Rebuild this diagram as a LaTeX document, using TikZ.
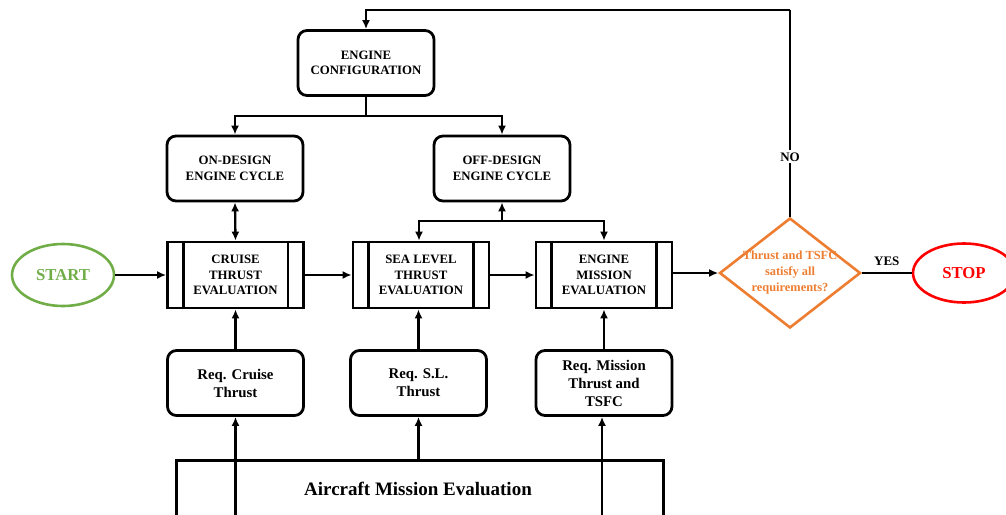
\documentclass[tikz,border=0pt]{standalone}
\usepackage{fontspec}
\setmainfont{Liberation Serif}
\usetikzlibrary{arrows.meta,shapes.geometric,calc}
\definecolor{sgreen}{HTML}{70AD47}
\definecolor{sorange}{HTML}{ED7D31}
\begin{document}
\begin{tikzpicture}[x=1pt,y=-1pt,
  rbox/.style={draw,line width=2.8pt,rounded corners=9pt,minimum width=136pt,minimum height=65pt,align=center,font=\bfseries\fontsize{12.8}{15.5}\selectfont},
  reqbox/.style={rbox,font=\bfseries\fontsize{14.8}{18}\selectfont},
  pbox/.style={draw,line width=2.8pt,minimum width=136pt,minimum height=66pt,align=center,font=\bfseries\fontsize{12.8}{15.5}\selectfont},
  conn/.style={line width=2.3pt,-{Latex[length=9pt,width=8pt]}},
  line/.style={line width=2.3pt},
  lbl/.style={font=\bfseries\fontsize{13}{15}\selectfont,fill=white,inner sep=2pt}]
\useasboundingbox (0,0) rectangle (1006,514);
\clip (0,0) rectangle (1006,514);
\node[rbox] (ec) at (366,63) {ENGINE\\CONFIGURATION};
\node[rbox] (on) at (235,168.5) {ON-DESIGN\\ENGINE CYCLE};
\node[rbox] (off) at (502,168.5) {OFF-DESIGN\\ENGINE CYCLE};
\node[pbox] (cr) at (235.5,275) {CRUISE\\THRUST\\EVALUATION};
\node[pbox] (sl) at (421,275) {SEA LEVEL\\THRUST\\EVALUATION};
\node[pbox] (em) at (604,275) {ENGINE\\MISSION\\EVALUATION};
\foreach \n in {cr,sl,em}{
  \draw[line width=2.8pt] ([xshift=17pt]\n.north west) -- ([xshift=17pt]\n.south west);
  \draw[line width=2.8pt] ([xshift=-17pt]\n.north east) -- ([xshift=-17pt]\n.south east);
}
\node[draw=sgreen,line width=2.6pt,ellipse,minimum width=102pt,minimum height=62pt,text=sgreen,font=\bfseries\fontsize{16.7}{19}\selectfont] (start) at (63,275) {START};
\node[draw=red,line width=2.6pt,ellipse,minimum width=102pt,minimum height=59pt,text=red,font=\bfseries\fontsize{16.7}{19}\selectfont] (stop) at (964,273) {STOP};
\node[draw=sorange,line width=2.6pt,diamond,minimum width=141pt,minimum height=110pt,inner sep=0pt] (dec) at (790,273) {};
\node[align=center,text=sorange,font=\bfseries\fontsize{12.4}{16}\selectfont,inner sep=0pt] (dectxt) at (790,273) {Thrust and TSFC\\satisfy all\\requirements?};
\node[reqbox] (rc) at (235.5,383) {Req. Cruise\\Thrust};
\node[reqbox] (rs) at (418.5,383) {Req. S.L.\\Thrust};
\node[reqbox] (rm) at (604,383) {Req. Mission\\Thrust and\\TSFC};
\node[draw,line width=2.8pt,minimum width=487pt,minimum height=120pt,anchor=north west,inner sep=0pt] (ame) at (175,459) {};
\node[font=\bfseries\fontsize{19}{22}\selectfont] (amet) at (418,489) {Aircraft Mission Evaluation};
% top tree
\coordinate (j1) at (366,116);
\draw[line] (ec.south) -- (j1);
\draw[conn] (j1) -| (on.north);
\draw[conn] (j1) -| (off.north);
\draw[line width=2.3pt,{Latex[length=9pt,width=8pt]}-{Latex[length=9pt,width=8pt]}] (on.south) -- (cr.north);
\coordinate (j2) at (502,221);
\draw[conn] (j2) -- (off.south);
\draw[conn] (j2) -| ([xshift=-2pt]sl.north);
\draw[conn] (j2) -| (em.north);
% main flow
\draw[conn] (start.east) -- (cr.west);
\draw[conn] (cr.east) -- (sl.west);
\draw[conn] (sl.east) -- (em.west);
\draw[conn] (em.east |- dec.west) -- (dec.west);
\draw[line width=1.8pt] (dec.east) -- node[above=3pt,font=\bfseries\fontsize{13}{15}\selectfont] (yes) {YES} (stop.west);
\coordinate (top) at (790,10);
\draw[line] (dec.north) -- node[lbl,pos=0.29] (no) {NO} (top);
\draw[conn] (top) -| (ec.north);
% requirements
\draw[conn] (rc.north) -- (cr.south);
\draw[conn] (rs.north) -- (rs.north |- sl.south);
\draw[conn] (rm.north) -- (em.south);
\coordinate (b1) at (235.5,530);
\coordinate (b3) at (602,530);
\draw[conn] (b1) -- (rc.south);
\draw[conn] (ame.north -| rs.south) -- (rs.south);
\draw[conn] (b3) -- (b3 |- rm.south);
\end{tikzpicture}
\end{document}
